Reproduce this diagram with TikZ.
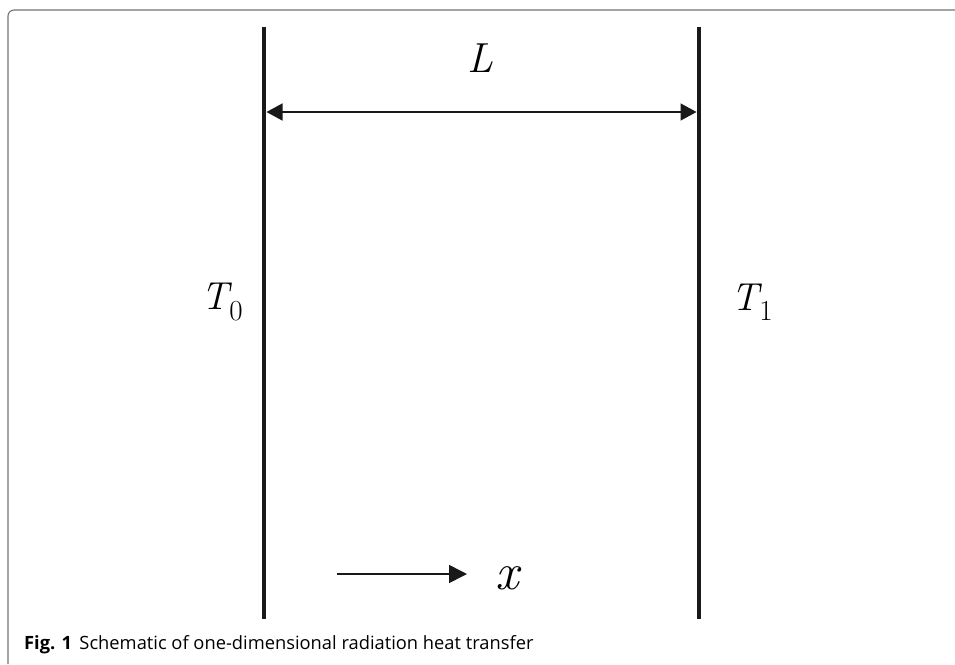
\documentclass[tikz,border=0pt]{standalone}
\usepackage{fontspec}
\setsansfont{Open Sans}
\usetikzlibrary{arrows.meta}
\newcommand{\tsym}[1]{\textit{T}\kern-0.07em\raisebox{-0.26em}{\fontsize{29}{30}\selectfont #1}}
\begin{document}
\begin{tikzpicture}[x=1pt,y=-1pt,
  wall/.style={line width=4.5pt,draw=black!90},
  dim/.style={line width=1.6pt,draw=black!90,{Triangle[length=16pt,width=17pt]}-{Triangle[length=16pt,width=17pt]}},
  dir/.style={line width=1.6pt,draw=black!90,-{Triangle[length=18pt,width=18pt]}},
  mlabel/.style={inner sep=0pt,font=\fontsize{39}{44}\selectfont},
  frame/.style={draw=black!55,line width=1.1pt,rounded corners=6pt}]
\useasboundingbox (0,0) rectangle (955,664);
\draw[frame] (8,664) -- (8,10) -- (955,10);
% walls
\coordinate (w0t) at (264,27);
\coordinate (w0b) at (264,619);
\coordinate (w1t) at (699,27);
\coordinate (w1b) at (699,619);
\draw[wall] (w0t) -- (w0b);
\draw[wall] (w1t) -- (w1b);
% dimension L
\coordinate (La) at (266.5,112);
\coordinate (Lb) at (696.5,112);
\draw[dim] (La) -- (Lb);
\node[inner sep=0pt,font=\fontsize{42}{48}\selectfont] (L) at (480,58) {\textit{L}};
% temperatures
\node[mlabel] (T0) at (222,302) {\tsym{0}};
\node[mlabel] (T1) at (752,302) {\tsym{1}};
% x direction
\coordinate (xa) at (337,574);
\coordinate (xb) at (467,574);
\draw[dir] (xa) -- (xb);
\node[inner sep=0pt,font=\fontsize{52}{60}\selectfont] (xl) at (509,578) {\textit{x}};
% caption
\node[anchor=base west,inner sep=0pt,font=\sffamily\fontsize{18.3}{21}\selectfont] (cap) at (24,649)
  {\textbf{Fig. 1}\hspace{0.4em}Schematic of one-dimensional radiation heat transfer};
\end{tikzpicture}
\end{document}
